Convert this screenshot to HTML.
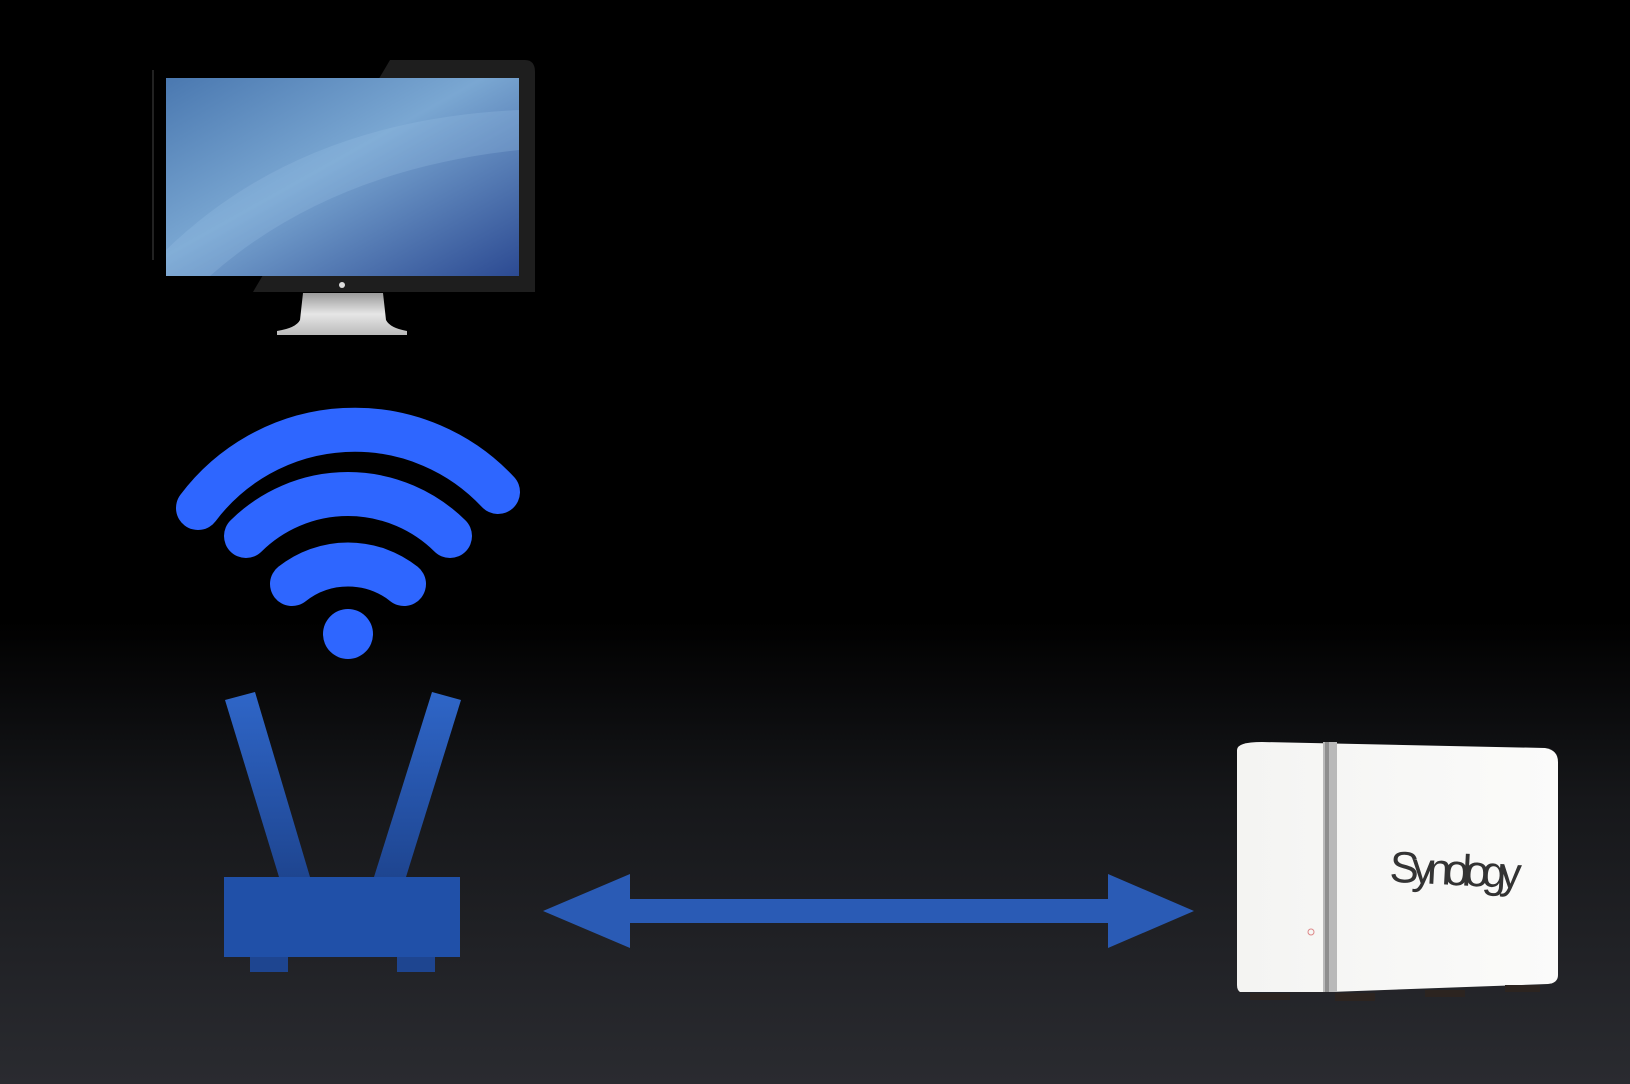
<!DOCTYPE html>
<html><head><style>
html,body{margin:0;padding:0}
body{width:1630px;height:1084px;overflow:hidden;background:linear-gradient(to bottom,#000 0px,#000 620px,#16171a 800px,#2a2b30 1084px);position:relative;font-family:"Liberation Sans",sans-serif}
</style></head><body>
<svg width="1630" height="1084" style="position:absolute;left:0;top:0">
<defs>
<linearGradient id="scr" x1="0" y1="0" x2="1" y2="1">
<stop offset="0" stop-color="#4a78b0"/><stop offset="0.45" stop-color="#7aa7d2"/><stop offset="1" stop-color="#2c4a92"/>
</linearGradient>
<linearGradient id="stand" x1="0" y1="0" x2="0" y2="1">
<stop offset="0" stop-color="#9a9a9a"/><stop offset="0.5" stop-color="#e6e6e6"/><stop offset="1" stop-color="#bbb"/>
</linearGradient>
<linearGradient id="rt" x1="0" y1="0" x2="0" y2="1">
<stop offset="0" stop-color="#2f66c8"/><stop offset="1" stop-color="#1e4590"/>
</linearGradient>
<linearGradient id="nas" x1="0" y1="0" x2="1" y2="0">
<stop offset="0" stop-color="#f4f4f2"/><stop offset="1" stop-color="#fbfbfa"/>
</linearGradient>
</defs>
<!-- monitor -->
<path d="M390 60 L525 60 Q535 60 535 72 L535 292 L253 292 Z" fill="#1e1e1e"/>
<rect x="152" y="70" width="2" height="190" fill="#222"/>
<rect x="166" y="78" width="353" height="198" fill="url(#scr)"/>
<path d="M166 250 Q300 120 519 110 L519 150 Q330 170 210 276 L166 276Z" fill="#9cc4e6" opacity="0.25"/>
<circle cx="342" cy="285" r="3" fill="#ddd"/>
<path d="M303 293 L383 293 L386 320 Q390 328 407 331 L407 335 L277 335 L277 331 Q296 328 300 320 Z" fill="url(#stand)"/>
<!-- wifi -->
<g fill="none" stroke="#2e66ff" stroke-width="44" stroke-linecap="round">
<path d="M198 508 A196 196 0 0 1 498 492"/>
<path d="M246 536 A145 145 0 0 1 450 536"/>
<path d="M292 584 A90 90 0 0 1 404 584"/>
</g>
<circle cx="348" cy="634" r="25" fill="#2e66ff"/>
<!-- router -->
<polygon points="225,700 255,692 310,877 279,877" fill="url(#rt)"/>
<polygon points="432,692 461,700 406,877 374,877" fill="url(#rt)"/>
<rect x="224" y="877" width="236" height="80" fill="#2050a8"/>
<rect x="250" y="957" width="38" height="15" fill="#1e4590"/>
<rect x="397" y="957" width="38" height="15" fill="#1e4590"/>
<!-- arrow -->
<polygon points="543,911 630,874 630,899 1108,899 1108,874 1194,911 1108,948 1108,923 630,923 630,948" fill="#2a5bb5"/>
<!-- NAS -->
<path d="M1262 742 L1545 748 Q1558 750 1558 762 L1558 975 Q1558 983 1548 984 L1330 992 L1240 992 Q1237 990 1237 985 L1237 750 Q1237 742 1262 742Z" fill="url(#nas)"/>
<rect x="1323" y="742" width="14" height="250" fill="#b9b9b9"/>
<rect x="1325" y="742" width="4" height="250" fill="#8e8e8e"/>
<path d="M1250 993 L1290 993 L1290 1000 L1250 1000Z M1335 993 L1375 993 L1375 1001 L1335 1001Z M1425 990 L1465 990 L1465 997 L1425 997Z M1505 985 L1540 985 L1540 992 L1505 992Z" fill="#2c2420"/>
<circle cx="1311" cy="932" r="3" fill="none" stroke="#d88" stroke-width="1"/>
<text x="1390" y="885" font-family="Liberation Sans, sans-serif" font-size="44" fill="#333" transform="rotate(3 1455 865)" textLength="132">Synology</text>
</svg>
</body></html>
